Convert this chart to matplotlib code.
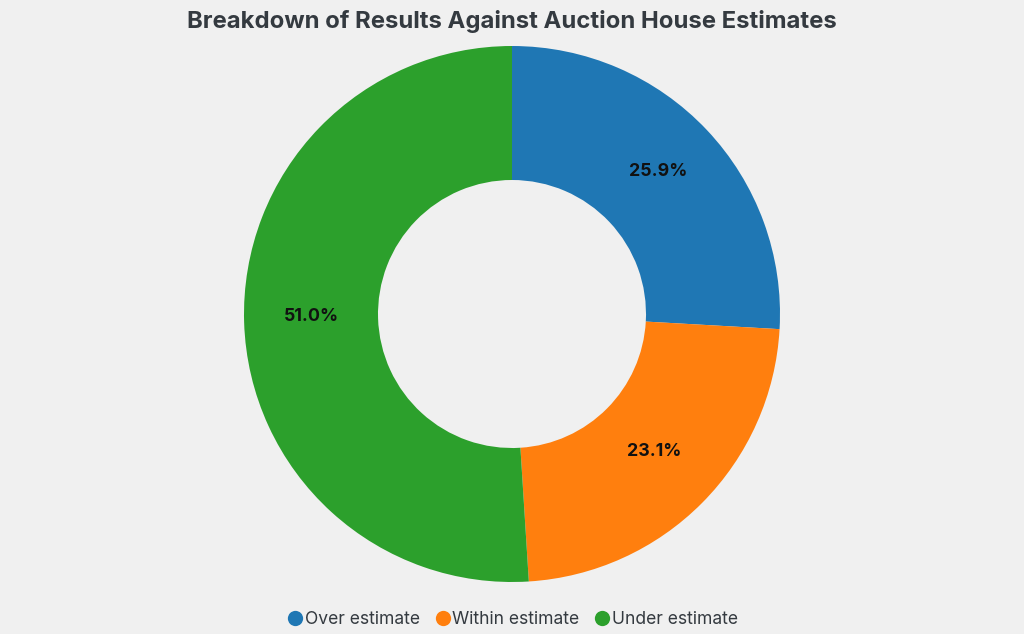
import matplotlib
matplotlib.use("Agg")
import matplotlib.pyplot as plt
from matplotlib.lines import Line2D

categories = ["Over estimate", "Within estimate", "Under estimate"]
values = [25.9, 23.1, 51.0]
colors = ["#1f77b4", "#ff7f0e", "#2ca02c"]

plt.rcParams['font.family'] = ['Inter', 'DejaVu Sans']

fig = plt.figure(figsize=(10.24, 6.34), dpi=100, facecolor="#f0f0f0")
ax = fig.add_axes([(512 - 268) / 1024, (634 - 314 - 268) / 634, 536 / 1024, 536 / 634])
ax.set_facecolor("#f0f0f0")

wedges, texts, autotexts = ax.pie(
    values, colors=colors, startangle=90, counterclock=False,
    autopct="%1.1f%%", pctdistance=0.75, radius=1.0,
    wedgeprops=dict(width=0.5, edgecolor="white", linewidth=0),
    textprops=dict(fontsize=12.8, fontweight="bold", color="#111111"),
)
for t in autotexts:
    x, y = t.get_position()
    t.set_position((x, y + 4 / 268))
ax.set_xlim(-1, 1)
ax.set_ylim(-1, 1)
ax.set_aspect("equal")
ax.axis("off")

fig.suptitle("Breakdown of Results Against Auction House Estimates",
             x=0.5, y=0.985, fontsize=17.2, fontweight="bold", color="#343a40", va="top")

handles = [Line2D([0], [0], marker="o", linestyle="", markersize=11,
                  markerfacecolor=c, markeredgecolor="none") for c in colors]
fig.legend(handles, categories, loc="center", bbox_to_anchor=(0.5, (634 - 620) / 634),
           ncol=3, frameon=False, fontsize=12.6, handletextpad=0.05, columnspacing=0.8,
           labelcolor="#343a40", handlelength=1.0)

fig.savefig("out.png", dpi=100, facecolor=fig.get_facecolor())
